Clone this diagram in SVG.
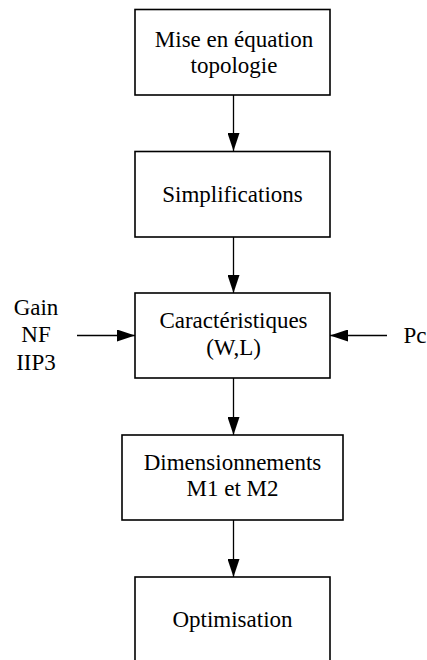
<svg xmlns="http://www.w3.org/2000/svg" width="427" height="660" viewBox="0 0 427 660">
<defs>
<marker id="ah" markerWidth="18" markerHeight="12" refX="18" refY="6" orient="auto" markerUnits="userSpaceOnUse">
<path d="M0,0 L18,6 L0,12 Z" fill="#000"/>
</marker>
<style>
.box{fill:#fff;stroke:#000;stroke-width:1.6}
.ln{stroke:#000;stroke-width:1.3;fill:none}
.t{font-family:'Liberation Serif','Times New Roman',serif;font-size:23px;fill:#000;text-anchor:middle}
</style>
</defs>
<rect width="427" height="660" fill="#fff"/>
<g id="connectors">
<line class="ln" x1="233.5" y1="95" x2="233.5" y2="151" marker-end="url(#ah)"/>
<line class="ln" x1="233.5" y1="237" x2="233.5" y2="293" marker-end="url(#ah)"/>
<line class="ln" x1="233.5" y1="378" x2="233.5" y2="435" marker-end="url(#ah)"/>
<line class="ln" x1="233.5" y1="520" x2="233.5" y2="577" marker-end="url(#ah)"/>
<line class="ln" x1="77" y1="335.5" x2="135" y2="335.5" marker-end="url(#ah)"/>
<line class="ln" x1="387" y1="335.5" x2="330" y2="335.5" marker-end="url(#ah)"/>
</g>
<g id="n1">
<rect class="box" x="135" y="9.5" width="195" height="85.5"/>
<text class="t" x="234" y="47">Mise en équation</text>
<text class="t" x="234" y="73">topologie</text>
</g>
<g id="n2">
<rect class="box" x="135" y="151.5" width="195" height="85.5"/>
<text class="t" x="232.5" y="202">Simplifications</text>
</g>
<g id="n3">
<rect class="box" x="135" y="293" width="195" height="85"/>
<text class="t" x="233.5" y="328">Caractéristiques</text>
<text class="t" x="233.5" y="355">(W,L)</text>
</g>
<g id="n4">
<rect class="box" x="122" y="435" width="221" height="85"/>
<text class="t" x="232.5" y="470">Dimensionnements</text>
<text class="t" x="232.5" y="496">M1 et M2</text>
</g>
<g id="n5">
<rect class="box" x="135" y="577" width="195" height="100"/>
<text class="t" x="232.5" y="627">Optimisation</text>
</g>
<g id="inputs">
<text class="t" x="36" y="315">Gain</text>
<text class="t" x="36" y="342">NF</text>
<text class="t" x="36" y="370">IIP3</text>
<text class="t" x="415" y="343">Pc</text>
</g>
</svg>
